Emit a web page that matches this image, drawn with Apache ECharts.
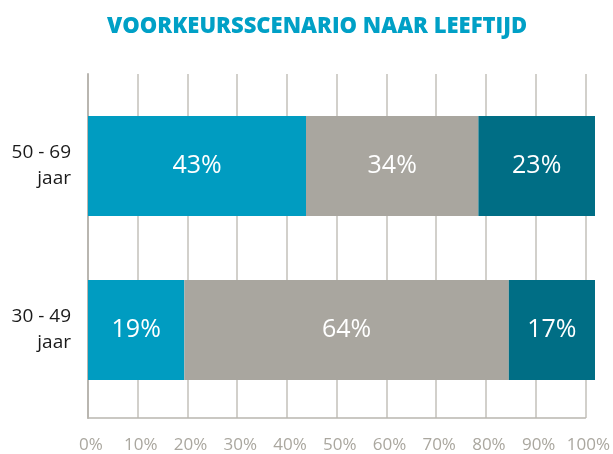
<!DOCTYPE html>
<html>
<head>
<meta charset="utf-8">
<script src="https://cdn.jsdelivr.net/npm/echarts@6/dist/echarts.min.js"></script>
<style>
  html, body { margin: 0; padding: 0; background: #fff; }
  #chart { width: 613px; height: 454px; }
</style>
</head>
<body>
<div id="chart"></div>
<script>
// leeftijdsgroepen, van boven naar beneden
var categories = ['50 - 69\njaar', '30 - 49\njaar'];
var blueValues = [43, 19];
var greyValues = [34, 64];
var darkValues = [23, 17];

var FONT = '"Open Sans", "Noto Sans", sans-serif';

var chart = echarts.init(document.getElementById('chart'), null, { renderer: 'canvas' });

function barSeries(name, values, color) {
	return {
		name: name,
		type: 'bar',
		stack: 'total',
		xAxisIndex: 1,
		yAxisIndex: 1,
		barWidth: 100,
		data: values,
		itemStyle: { color: color },
		label: {
			show: true,
			position: 'inside',
			formatter: '{c}%',
			color: '#fff',
			fontFamily: FONT,
			fontSize: 25
		}
	};
}

chart.setOption({
	animation: false,
	title: {
		text: 'VOORKEURSSCENARIO NAAR LEEFTIJD',
		left: 102,
		top: 11,
		textStyle: {
			color: '#00a0c6',
			fontFamily: FONT,
			fontWeight: 800,
			fontSize: 22
		}
	},
	grid: [
		// rooster + as
		{ left: 88, right: 18, top: 74, bottom: 34 },
		// balken
		{ left: 88, right: 18, top: 84, bottom: 42 }
	],
	xAxis: [
		{
			gridIndex: 0,
			type: 'value',
			min: 0,
			max: 100,
			interval: 10,
			axisLine: { show: true, lineStyle: { color: '#b9b6b0', width: 1.5 } },
			axisTick: { show: false },
			splitLine: { show: true, lineStyle: { color: '#c3c0ba', width: 1.5 } },
			axisLabel: {
				formatter: '{value}%',
				color: '#aaa79f',
				fontFamily: FONT,
				fontSize: 17,
				margin: 19,
				padding: [0, 0, 0, 6]
			}
		},
		{
			gridIndex: 1,
			type: 'value',
			min: 0,
			max: 100,
			show: false
		}
	],
	yAxis: [
		{
			gridIndex: 0,
			type: 'category',
			data: categories,
			axisLine: { show: true, lineStyle: { color: '#b9b6b0', width: 2 } },
			axisTick: { show: false },
			axisLabel: { show: false }
		},
		{
			gridIndex: 1,
			type: 'category',
			inverse: true,
			data: categories,
			axisLine: { show: false },
			axisTick: { show: false },
			axisLabel: {
				color: '#1a1a1a',
				fontFamily: FONT,
				fontSize: 19,
				lineHeight: 26,
				align: 'right',
				margin: 17
			}
		}
	],
	series: [
		barSeries('blauw', blueValues, '#009cc1'),
		barSeries('grijs', greyValues, '#a9a69f'),
		barSeries('donker', darkValues, '#006e85')
	]
});
</script>
</body>
</html>
